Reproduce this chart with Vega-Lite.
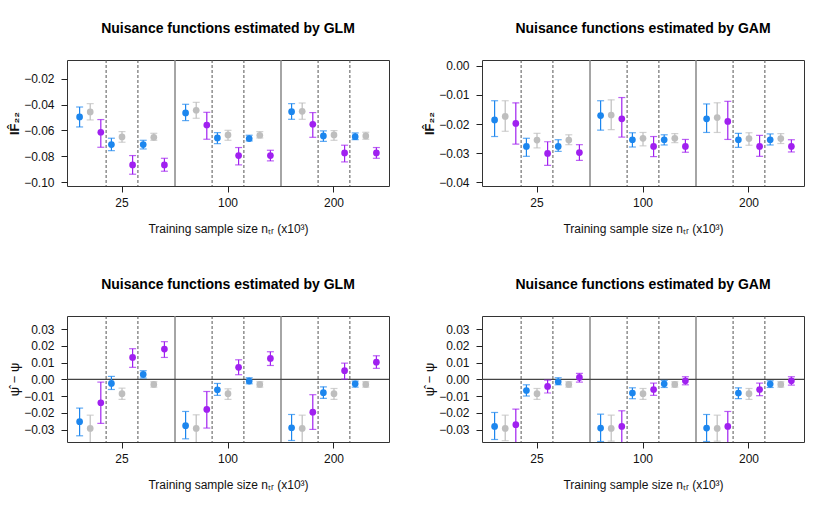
{
  "$schema": "https://vega.github.io/schema/vega-lite/v6.json",
  "padding": {"left": 8, "top": 21, "right": 5, "bottom": 5},
  "background": "white",
  "config": {
    "font": "Liberation Sans",
    "view": {"stroke": "#333", "strokeWidth": 1},
    "title": {"fontSize": 14, "fontWeight": "bold", "color": "#000", "offset": 23, "baseline": "alphabetic", "anchor": "middle"},
    "axisX": {"labelFontSize": 12, "titleFontSize": 12, "titleFontWeight": "normal", "tickSize": 6, "domain": false, "grid": false, "labelAngle": 0, "tickColor": "#222", "labelColor": "#111", "titleColor": "#111"},
    "axisY": {"labelFontSize": 12, "titleFontSize": 13, "tickSize": 6, "labelPadding": 7, "titlePadding": 2, "domain": false, "grid": false, "labelOverlap": false, "tickCount": 20, "tickColor": "#222", "labelColor": "#111", "titleColor": "#111"}
  },
  "datasets": {
    "grp": [{"n": "25"}, {"n": "100"}, {"n": "200"}],
    "est": [
      {"p": "A", "n": "25", "k": "1A", "m": "A", "v": -0.0496, "lo": -0.0573, "hi": -0.0419},
      {"p": "A", "n": "25", "k": "1B", "m": "B", "v": -0.0457, "lo": -0.0519, "hi": -0.0393},
      {"p": "A", "n": "25", "k": "1C", "m": "C", "v": -0.0614, "lo": -0.0730, "hi": -0.0516},
      {"p": "A", "n": "25", "k": "2A", "m": "A", "v": -0.0709, "lo": -0.0756, "hi": -0.0660},
      {"p": "A", "n": "25", "k": "2B", "m": "B", "v": -0.0650, "lo": -0.0691, "hi": -0.0609},
      {"p": "A", "n": "25", "k": "2C", "m": "C", "v": -0.0866, "lo": -0.0938, "hi": -0.0794},
      {"p": "A", "n": "25", "k": "3A", "m": "A", "v": -0.0709, "lo": -0.0743, "hi": -0.0676},
      {"p": "A", "n": "25", "k": "3B", "m": "B", "v": -0.0653, "lo": -0.0676, "hi": -0.0622},
      {"p": "A", "n": "25", "k": "3C", "m": "C", "v": -0.0866, "lo": -0.0915, "hi": -0.0815},
      {"p": "A", "n": "100", "k": "1A", "m": "A", "v": -0.0465, "lo": -0.0524, "hi": -0.0398},
      {"p": "A", "n": "100", "k": "1B", "m": "B", "v": -0.0444, "lo": -0.0506, "hi": -0.0383},
      {"p": "A", "n": "100", "k": "1C", "m": "C", "v": -0.0558, "lo": -0.0668, "hi": -0.0460},
      {"p": "A", "n": "100", "k": "2A", "m": "A", "v": -0.0658, "lo": -0.0702, "hi": -0.0617},
      {"p": "A", "n": "100", "k": "2B", "m": "B", "v": -0.0635, "lo": -0.0676, "hi": -0.0599},
      {"p": "A", "n": "100", "k": "2C", "m": "C", "v": -0.0794, "lo": -0.0866, "hi": -0.0732},
      {"p": "A", "n": "100", "k": "3A", "m": "A", "v": -0.0663, "lo": -0.0681, "hi": -0.0637},
      {"p": "A", "n": "100", "k": "3B", "m": "B", "v": -0.0637, "lo": -0.0658, "hi": -0.0609},
      {"p": "A", "n": "100", "k": "3C", "m": "C", "v": -0.0794, "lo": -0.0835, "hi": -0.0753},
      {"p": "A", "n": "200", "k": "1A", "m": "A", "v": -0.0455, "lo": -0.0514, "hi": -0.0393},
      {"p": "A", "n": "200", "k": "1B", "m": "B", "v": -0.0452, "lo": -0.0514, "hi": -0.0388},
      {"p": "A", "n": "200", "k": "1C", "m": "C", "v": -0.0552, "lo": -0.0653, "hi": -0.0462},
      {"p": "A", "n": "200", "k": "2A", "m": "A", "v": -0.0642, "lo": -0.0684, "hi": -0.0604},
      {"p": "A", "n": "200", "k": "2B", "m": "B", "v": -0.0635, "lo": -0.0676, "hi": -0.0601},
      {"p": "A", "n": "200", "k": "2C", "m": "C", "v": -0.0774, "lo": -0.0843, "hi": -0.0714},
      {"p": "A", "n": "200", "k": "3A", "m": "A", "v": -0.0648, "lo": -0.0671, "hi": -0.0619},
      {"p": "A", "n": "200", "k": "3B", "m": "B", "v": -0.0642, "lo": -0.0668, "hi": -0.0614},
      {"p": "A", "n": "200", "k": "3C", "m": "C", "v": -0.0774, "lo": -0.0815, "hi": -0.0732},
      {"p": "B", "n": "25", "k": "1A", "m": "A", "v": -0.0186, "lo": -0.0243, "hi": -0.0120},
      {"p": "B", "n": "25", "k": "1B", "m": "B", "v": -0.0174, "lo": -0.0225, "hi": -0.0120},
      {"p": "B", "n": "25", "k": "1C", "m": "C", "v": -0.0198, "lo": -0.0269, "hi": -0.0127},
      {"p": "B", "n": "25", "k": "2A", "m": "A", "v": -0.0277, "lo": -0.0311, "hi": -0.0249},
      {"p": "B", "n": "25", "k": "2B", "m": "B", "v": -0.0255, "lo": -0.0282, "hi": -0.0232},
      {"p": "B", "n": "25", "k": "2C", "m": "C", "v": -0.0301, "lo": -0.0342, "hi": -0.0261},
      {"p": "B", "n": "25", "k": "3A", "m": "A", "v": -0.0277, "lo": -0.0294, "hi": -0.0254},
      {"p": "B", "n": "25", "k": "3B", "m": "B", "v": -0.0255, "lo": -0.0271, "hi": -0.0237},
      {"p": "B", "n": "25", "k": "3C", "m": "C", "v": -0.0298, "lo": -0.0325, "hi": -0.0271},
      {"p": "B", "n": "100", "k": "1A", "m": "A", "v": -0.0171, "lo": -0.0221, "hi": -0.0120},
      {"p": "B", "n": "100", "k": "1B", "m": "B", "v": -0.0169, "lo": -0.0219, "hi": -0.0117},
      {"p": "B", "n": "100", "k": "1C", "m": "C", "v": -0.0182, "lo": -0.0245, "hi": -0.0109},
      {"p": "B", "n": "100", "k": "2A", "m": "A", "v": -0.0254, "lo": -0.0279, "hi": -0.0230},
      {"p": "B", "n": "100", "k": "2B", "m": "B", "v": -0.0249, "lo": -0.0275, "hi": -0.0229},
      {"p": "B", "n": "100", "k": "2C", "m": "C", "v": -0.0277, "lo": -0.0312, "hi": -0.0243},
      {"p": "B", "n": "100", "k": "3A", "m": "A", "v": -0.0254, "lo": -0.0272, "hi": -0.0237},
      {"p": "B", "n": "100", "k": "3B", "m": "B", "v": -0.0249, "lo": -0.0264, "hi": -0.0233},
      {"p": "B", "n": "100", "k": "3C", "m": "C", "v": -0.0277, "lo": -0.0297, "hi": -0.0253},
      {"p": "B", "n": "200", "k": "1A", "m": "A", "v": -0.0182, "lo": -0.0229, "hi": -0.0131},
      {"p": "B", "n": "200", "k": "1B", "m": "B", "v": -0.0178, "lo": -0.0229, "hi": -0.0127},
      {"p": "B", "n": "200", "k": "1C", "m": "C", "v": -0.0191, "lo": -0.0253, "hi": -0.0122},
      {"p": "B", "n": "200", "k": "2A", "m": "A", "v": -0.0254, "lo": -0.0280, "hi": -0.0232},
      {"p": "B", "n": "200", "k": "2B", "m": "B", "v": -0.0250, "lo": -0.0273, "hi": -0.0230},
      {"p": "B", "n": "200", "k": "2C", "m": "C", "v": -0.0277, "lo": -0.0311, "hi": -0.0239},
      {"p": "B", "n": "200", "k": "3A", "m": "A", "v": -0.0254, "lo": -0.0272, "hi": -0.0234},
      {"p": "B", "n": "200", "k": "3B", "m": "B", "v": -0.0250, "lo": -0.0267, "hi": -0.0233},
      {"p": "B", "n": "200", "k": "3C", "m": "C", "v": -0.0277, "lo": -0.0296, "hi": -0.0254},
      {"p": "C", "n": "25", "k": "1A", "m": "A", "v": -0.0252, "lo": -0.0336, "hi": -0.0171},
      {"p": "C", "n": "25", "k": "1B", "m": "B", "v": -0.0292, "lo": -0.0400, "hi": -0.0213},
      {"p": "C", "n": "25", "k": "1C", "m": "C", "v": -0.0139, "lo": -0.0262, "hi": -0.0016},
      {"p": "C", "n": "25", "k": "2A", "m": "A", "v": -0.0024, "lo": -0.0060, "hi": 0.0018},
      {"p": "C", "n": "25", "k": "2B", "m": "B", "v": -0.0085, "lo": -0.0119, "hi": -0.0052},
      {"p": "C", "n": "25", "k": "2C", "m": "C", "v": 0.0131, "lo": 0.0072, "hi": 0.0183},
      {"p": "C", "n": "25", "k": "3A", "m": "A", "v": 0.0030, "lo": 0.0008, "hi": 0.0052},
      {"p": "C", "n": "25", "k": "3B", "m": "B", "v": -0.0030, "lo": -0.0046, "hi": -0.0014},
      {"p": "C", "n": "25", "k": "3C", "m": "C", "v": 0.0181, "lo": 0.0131, "hi": 0.0225},
      {"p": "C", "n": "100", "k": "1A", "m": "A", "v": -0.0276, "lo": -0.0354, "hi": -0.0191},
      {"p": "C", "n": "100", "k": "1B", "m": "B", "v": -0.0292, "lo": -0.0400, "hi": -0.0211},
      {"p": "C", "n": "100", "k": "1C", "m": "C", "v": -0.0179, "lo": -0.0290, "hi": -0.0072},
      {"p": "C", "n": "100", "k": "2A", "m": "A", "v": -0.0062, "lo": -0.0095, "hi": -0.0024},
      {"p": "C", "n": "100", "k": "2B", "m": "B", "v": -0.0085, "lo": -0.0119, "hi": -0.0056},
      {"p": "C", "n": "100", "k": "2C", "m": "C", "v": 0.0072, "lo": 0.0028, "hi": 0.0117},
      {"p": "C", "n": "100", "k": "3A", "m": "A", "v": -0.0010, "lo": -0.0026, "hi": 0.0010},
      {"p": "C", "n": "100", "k": "3B", "m": "B", "v": -0.0030, "lo": -0.0046, "hi": -0.0014},
      {"p": "C", "n": "100", "k": "3C", "m": "C", "v": 0.0125, "lo": 0.0083, "hi": 0.0165},
      {"p": "C", "n": "200", "k": "1A", "m": "A", "v": -0.0288, "lo": -0.0364, "hi": -0.0209},
      {"p": "C", "n": "200", "k": "1B", "m": "B", "v": -0.0292, "lo": -0.0400, "hi": -0.0213},
      {"p": "C", "n": "200", "k": "1C", "m": "C", "v": -0.0195, "lo": -0.0298, "hi": -0.0091},
      {"p": "C", "n": "200", "k": "2A", "m": "A", "v": -0.0079, "lo": -0.0113, "hi": -0.0044},
      {"p": "C", "n": "200", "k": "2B", "m": "B", "v": -0.0085, "lo": -0.0119, "hi": -0.0054},
      {"p": "C", "n": "200", "k": "2C", "m": "C", "v": 0.0052, "lo": 0.0002, "hi": 0.0097},
      {"p": "C", "n": "200", "k": "3A", "m": "A", "v": -0.0026, "lo": -0.0046, "hi": -0.0010},
      {"p": "C", "n": "200", "k": "3B", "m": "B", "v": -0.0030, "lo": -0.0046, "hi": -0.0014},
      {"p": "C", "n": "200", "k": "3C", "m": "C", "v": 0.0103, "lo": 0.0066, "hi": 0.0141},
      {"p": "D", "n": "25", "k": "1A", "m": "A", "v": -0.0280, "lo": -0.0358, "hi": -0.0197},
      {"p": "D", "n": "25", "k": "1B", "m": "B", "v": -0.0292, "lo": -0.0365, "hi": -0.0213},
      {"p": "D", "n": "25", "k": "1C", "m": "C", "v": -0.0270, "lo": -0.0400, "hi": -0.0177},
      {"p": "D", "n": "25", "k": "2A", "m": "A", "v": -0.0066, "lo": -0.0099, "hi": -0.0032},
      {"p": "D", "n": "25", "k": "2B", "m": "B", "v": -0.0085, "lo": -0.0119, "hi": -0.0054},
      {"p": "D", "n": "25", "k": "2C", "m": "C", "v": -0.0042, "lo": -0.0081, "hi": -0.0004},
      {"p": "D", "n": "25", "k": "3A", "m": "A", "v": -0.0014, "lo": -0.0032, "hi": 0.0010},
      {"p": "D", "n": "25", "k": "3B", "m": "B", "v": -0.0030, "lo": -0.0046, "hi": -0.0014},
      {"p": "D", "n": "25", "k": "3C", "m": "C", "v": 0.0012, "lo": -0.0016, "hi": 0.0036},
      {"p": "D", "n": "100", "k": "1A", "m": "A", "v": -0.0290, "lo": -0.0370, "hi": -0.0207},
      {"p": "D", "n": "100", "k": "1B", "m": "B", "v": -0.0292, "lo": -0.0368, "hi": -0.0213},
      {"p": "D", "n": "100", "k": "1C", "m": "C", "v": -0.0280, "lo": -0.0400, "hi": -0.0187},
      {"p": "D", "n": "100", "k": "2A", "m": "A", "v": -0.0081, "lo": -0.0115, "hi": -0.0050},
      {"p": "D", "n": "100", "k": "2B", "m": "B", "v": -0.0085, "lo": -0.0119, "hi": -0.0054},
      {"p": "D", "n": "100", "k": "2C", "m": "C", "v": -0.0060, "lo": -0.0095, "hi": -0.0022},
      {"p": "D", "n": "100", "k": "3A", "m": "A", "v": -0.0026, "lo": -0.0048, "hi": -0.0006},
      {"p": "D", "n": "100", "k": "3B", "m": "B", "v": -0.0030, "lo": -0.0046, "hi": -0.0014},
      {"p": "D", "n": "100", "k": "3C", "m": "C", "v": -0.0008, "lo": -0.0032, "hi": 0.0016},
      {"p": "D", "n": "200", "k": "1A", "m": "A", "v": -0.0290, "lo": -0.0370, "hi": -0.0209},
      {"p": "D", "n": "200", "k": "1B", "m": "B", "v": -0.0292, "lo": -0.0368, "hi": -0.0213},
      {"p": "D", "n": "200", "k": "1C", "m": "C", "v": -0.0280, "lo": -0.0400, "hi": -0.0191},
      {"p": "D", "n": "200", "k": "2A", "m": "A", "v": -0.0081, "lo": -0.0115, "hi": -0.0050},
      {"p": "D", "n": "200", "k": "2B", "m": "B", "v": -0.0085, "lo": -0.0119, "hi": -0.0054},
      {"p": "D", "n": "200", "k": "2C", "m": "C", "v": -0.0060, "lo": -0.0097, "hi": -0.0022},
      {"p": "D", "n": "200", "k": "3A", "m": "A", "v": -0.0028, "lo": -0.0048, "hi": -0.0008},
      {"p": "D", "n": "200", "k": "3B", "m": "B", "v": -0.0030, "lo": -0.0046, "hi": -0.0014},
      {"p": "D", "n": "200", "k": "3C", "m": "C", "v": -0.0008, "lo": -0.0034, "hi": 0.0016}
    ]
  },
  "bounds": "flush",
  "columns": 2,
  "spacing": {"row": 130, "column": 93},
  "concat": [
        {
          "width": 322, "height": 126,
          "title": "Nuisance functions estimated by GLM",
          "layer": [
            {"data": {"name": "grp"}, "transform": [{"filter": "datum.n != '25'"}], "mark": {"type": "rule", "color": "#888", "strokeWidth": 1.5}, "encoding": {"x": {"field": "n", "type": "ordinal", "bandPosition": 0, "scale": {"domain": ["25", "100", "200"], "paddingInner": 0, "paddingOuter": 0.019}, "axis": {"title": "Training sample size nₜᵣ (x10³)", "labelPadding": 5, "titlePadding": 15}}}},
            {"data": {"name": "grp"}, "mark": {"type": "rule", "color": "#555", "strokeDash": [3, 2]}, "encoding": {"x": {"field": "n", "type": "ordinal", "bandPosition": 0.35}}},
            {"data": {"name": "grp"}, "mark": {"type": "rule", "color": "#555", "strokeDash": [3, 2]}, "encoding": {"x": {"field": "n", "type": "ordinal", "bandPosition": 0.65}}},
            {"data": {"name": "est"}, "transform": [{"filter": "datum.p == 'A'"}],
             "encoding": {
               "x": {"field": "n", "type": "ordinal"},
               "xOffset": {"field": "k", "type": "nominal", "scale": {"domain": ["1A","1B","1C","2A","2B","2C","3A","3B","3C"], "paddingInner": 0, "paddingOuter": 0.5}},
               "color": {"field": "m", "type": "nominal", "scale": {"domain": ["A","B","C"], "range": ["#1C86EE","#BEBEBE","#A020F0"]}, "legend": null}
             },
             "layer": [
               {"mark": {"type": "rule", "strokeWidth": 1.2, "clip": true}, "encoding": {"y": {"field": "lo", "type": "quantitative", "scale": {"domain": [-0.1029, -0.0056], "nice": false, "zero": false}, "axis": {"title": "IF̂₂₂", "titleFontWeight": "bold", "values": [-0.1, -0.08, -0.06, -0.04, -0.02], "tickCount": 20, "format": ".2f", "labelOverlap": false}}, "y2": {"field": "hi"}}},
               {"mark": {"type": "tick", "orient": "horizontal", "size": 7, "thickness": 1.2, "clip": true}, "encoding": {"y": {"field": "lo", "type": "quantitative"}}},
               {"mark": {"type": "tick", "orient": "horizontal", "size": 7, "thickness": 1.2, "clip": true}, "encoding": {"y": {"field": "hi", "type": "quantitative"}}},
               {"mark": {"type": "point", "filled": true, "size": 45, "opacity": 1, "clip": true}, "encoding": {"y": {"field": "v", "type": "quantitative"}}}
             ]}
          ]
        },
        {
          "width": 322, "height": 126,
          "title": "Nuisance functions estimated by GAM",
          "layer": [
            {"data": {"name": "grp"}, "transform": [{"filter": "datum.n != '25'"}], "mark": {"type": "rule", "color": "#888", "strokeWidth": 1.5}, "encoding": {"x": {"field": "n", "type": "ordinal", "bandPosition": 0, "scale": {"domain": ["25", "100", "200"], "paddingInner": 0, "paddingOuter": 0.019}, "axis": {"title": "Training sample size nₜᵣ (x10³)", "labelPadding": 5, "titlePadding": 15}}}},
            {"data": {"name": "grp"}, "mark": {"type": "rule", "color": "#555", "strokeDash": [3, 2]}, "encoding": {"x": {"field": "n", "type": "ordinal", "bandPosition": 0.35}}},
            {"data": {"name": "grp"}, "mark": {"type": "rule", "color": "#555", "strokeDash": [3, 2]}, "encoding": {"x": {"field": "n", "type": "ordinal", "bandPosition": 0.65}}},
            {"data": {"name": "est"}, "transform": [{"filter": "datum.p == 'B'"}],
             "encoding": {
               "x": {"field": "n", "type": "ordinal"},
               "xOffset": {"field": "k", "type": "nominal", "scale": {"domain": ["1A","1B","1C","2A","2B","2C","3A","3B","3C"], "paddingInner": 0, "paddingOuter": 0.5}},
               "color": {"field": "m", "type": "nominal", "scale": {"domain": ["A","B","C"], "range": ["#1C86EE","#BEBEBE","#A020F0"]}, "legend": null}
             },
             "layer": [
               {"mark": {"type": "rule", "strokeWidth": 1.2, "clip": true}, "encoding": {"y": {"field": "lo", "type": "quantitative", "scale": {"domain": [-0.0413, 0.0020], "nice": false, "zero": false}, "axis": {"title": "IF̂₂₂", "titleFontWeight": "bold", "values": [-0.04, -0.03, -0.02, -0.01, 0], "tickCount": 20, "format": ".2f", "labelOverlap": false}}, "y2": {"field": "hi"}}},
               {"mark": {"type": "tick", "orient": "horizontal", "size": 7, "thickness": 1.2, "clip": true}, "encoding": {"y": {"field": "lo", "type": "quantitative"}}},
               {"mark": {"type": "tick", "orient": "horizontal", "size": 7, "thickness": 1.2, "clip": true}, "encoding": {"y": {"field": "hi", "type": "quantitative"}}},
               {"mark": {"type": "point", "filled": true, "size": 45, "opacity": 1, "clip": true}, "encoding": {"y": {"field": "v", "type": "quantitative"}}}
             ]}
          ]
        },
        {
          "width": 322, "height": 126,
          "title": "Nuisance functions estimated by GLM",
          "layer": [
            {"data": {"name": "grp"}, "transform": [{"filter": "datum.n != '25'"}], "mark": {"type": "rule", "color": "#888", "strokeWidth": 1.5}, "encoding": {"x": {"field": "n", "type": "ordinal", "bandPosition": 0, "scale": {"domain": ["25", "100", "200"], "paddingInner": 0, "paddingOuter": 0.019}, "axis": {"title": "Training sample size nₜᵣ (x10³)", "labelPadding": 5, "titlePadding": 15}}}},
            {"data": {"name": "grp"}, "mark": {"type": "rule", "color": "#555", "strokeDash": [3, 2]}, "encoding": {"x": {"field": "n", "type": "ordinal", "bandPosition": 0.35}}},
            {"data": {"name": "grp"}, "mark": {"type": "rule", "color": "#555", "strokeDash": [3, 2]}, "encoding": {"x": {"field": "n", "type": "ordinal", "bandPosition": 0.65}}},
            {"data": {"values": [{"z": 0}]}, "mark": {"type": "rule", "color": "#444", "strokeWidth": 1.1}, "encoding": {"y": {"field": "z", "type": "quantitative"}}},
            {"data": {"name": "est"}, "transform": [{"filter": "datum.p == 'C'"}],
             "encoding": {
               "x": {"field": "n", "type": "ordinal"},
               "xOffset": {"field": "k", "type": "nominal", "scale": {"domain": ["1A","1B","1C","2A","2B","2C","3A","3B","3C"], "paddingInner": 0, "paddingOuter": 0.5}},
               "color": {"field": "m", "type": "nominal", "scale": {"domain": ["A","B","C"], "range": ["#1C86EE","#BEBEBE","#A020F0"]}, "legend": null}
             },
             "layer": [
               {"mark": {"type": "rule", "strokeWidth": 1.2, "clip": true}, "encoding": {"y": {"field": "lo", "type": "quantitative", "scale": {"domain": [-0.0373, 0.0378], "nice": false, "zero": false}, "axis": {"title": "ψ̂ − ψ", "titleFontWeight": "normal", "values": [-0.03, -0.02, -0.01, 0, 0.01, 0.02, 0.03], "tickCount": 20, "format": ".2f", "labelOverlap": false}}, "y2": {"field": "hi"}}},
               {"mark": {"type": "tick", "orient": "horizontal", "size": 7, "thickness": 1.2, "clip": true}, "encoding": {"y": {"field": "lo", "type": "quantitative"}}},
               {"mark": {"type": "tick", "orient": "horizontal", "size": 7, "thickness": 1.2, "clip": true}, "encoding": {"y": {"field": "hi", "type": "quantitative"}}},
               {"mark": {"type": "point", "filled": true, "size": 45, "opacity": 1, "clip": true}, "encoding": {"y": {"field": "v", "type": "quantitative"}}}
             ]}
          ]
        },
        {
          "width": 322, "height": 126,
          "title": "Nuisance functions estimated by GAM",
          "layer": [
            {"data": {"name": "grp"}, "transform": [{"filter": "datum.n != '25'"}], "mark": {"type": "rule", "color": "#888", "strokeWidth": 1.5}, "encoding": {"x": {"field": "n", "type": "ordinal", "bandPosition": 0, "scale": {"domain": ["25", "100", "200"], "paddingInner": 0, "paddingOuter": 0.019}, "axis": {"title": "Training sample size nₜᵣ (x10³)", "labelPadding": 5, "titlePadding": 15}}}},
            {"data": {"name": "grp"}, "mark": {"type": "rule", "color": "#555", "strokeDash": [3, 2]}, "encoding": {"x": {"field": "n", "type": "ordinal", "bandPosition": 0.35}}},
            {"data": {"name": "grp"}, "mark": {"type": "rule", "color": "#555", "strokeDash": [3, 2]}, "encoding": {"x": {"field": "n", "type": "ordinal", "bandPosition": 0.65}}},
            {"data": {"values": [{"z": 0}]}, "mark": {"type": "rule", "color": "#444", "strokeWidth": 1.1}, "encoding": {"y": {"field": "z", "type": "quantitative"}}},
            {"data": {"name": "est"}, "transform": [{"filter": "datum.p == 'D'"}],
             "encoding": {
               "x": {"field": "n", "type": "ordinal"},
               "xOffset": {"field": "k", "type": "nominal", "scale": {"domain": ["1A","1B","1C","2A","2B","2C","3A","3B","3C"], "paddingInner": 0, "paddingOuter": 0.5}},
               "color": {"field": "m", "type": "nominal", "scale": {"domain": ["A","B","C"], "range": ["#1C86EE","#BEBEBE","#A020F0"]}, "legend": null}
             },
             "layer": [
               {"mark": {"type": "rule", "strokeWidth": 1.2, "clip": true}, "encoding": {"y": {"field": "lo", "type": "quantitative", "scale": {"domain": [-0.0373, 0.0378], "nice": false, "zero": false}, "axis": {"title": "ψ̂ − ψ", "titleFontWeight": "normal", "values": [-0.03, -0.02, -0.01, 0, 0.01, 0.02, 0.03], "tickCount": 20, "format": ".2f", "labelOverlap": false}}, "y2": {"field": "hi"}}},
               {"mark": {"type": "tick", "orient": "horizontal", "size": 7, "thickness": 1.2, "clip": true}, "encoding": {"y": {"field": "lo", "type": "quantitative"}}},
               {"mark": {"type": "tick", "orient": "horizontal", "size": 7, "thickness": 1.2, "clip": true}, "encoding": {"y": {"field": "hi", "type": "quantitative"}}},
               {"mark": {"type": "point", "filled": true, "size": 45, "opacity": 1, "clip": true}, "encoding": {"y": {"field": "v", "type": "quantitative"}}}
             ]}
          ]
        }
  ]
}
